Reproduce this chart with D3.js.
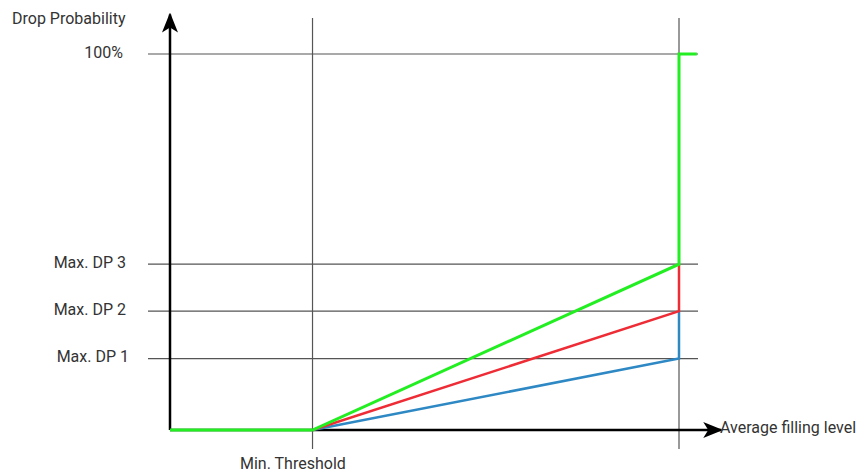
<!DOCTYPE html>
<html>
<head>
<meta charset="utf-8">
<script src="https://d3js.org/d3.v7.min.js"></script>
<style>
  body { margin: 0; background: #fff; }
  text { font-family: Roboto, "Noto Sans", sans-serif; font-size: 16px; fill: #333; }
</style>
</head>
<body>
<svg id="chart" width="862" height="470"></svg>
<script>
// fill level: 0 .. max threshold (100), drop probability in %
var minThreshold = 28;
var maxThreshold = 100;
var levelLabels = ["Max. DP 1", "Max. DP 2", "Max. DP 3", "100%"];
var levelValues = [19, 31.6, 44.1, 100];
var curveNames = ["DP 1", "DP 2", "DP 3"];
var curveMax = [19, 31.6, 44.1];
var curveColors = ["#2e88c4", "#ee2c36", "#22ee22"];

// right edge of each level label
var labelRight = [129, 126, 126, 123];

var svg = d3.select("#chart");

var x = d3.scaleLinear().domain([0, maxThreshold]).range([170, 679]);
var y = d3.scaleLinear().domain([0, 100]).range([430, 54]);

// arrow markers
var defs = svg.append("defs");
defs.append("marker")
    .attr("id", "arrow")
    .attr("viewBox", "0 0 20 16")
    .attr("refX", 18).attr("refY", 8)
    .attr("markerWidth", 20).attr("markerHeight", 16)
    .attr("markerUnits", "userSpaceOnUse")
    .attr("orient", "auto")
  .append("path")
    .attr("d", "M0,0 L20,8 L0,16 L5,8 Z")
    .attr("fill", "#000");

// guide lines for the levels
svg.append("g").selectAll("line")
    .data(levelValues)
    .enter().append("line")
      .attr("x1", 148).attr("x2", 698)
      .attr("y1", function(d) { return y(d); })
      .attr("y2", function(d) { return y(d); })
      .attr("stroke", "#555").attr("stroke-width", 1.2);

svg.append("g").selectAll("text")
    .data(levelValues)
    .enter().append("text")
      .attr("x", function(d, i) { return labelRight[i]; })
      .attr("y", function(d) { return y(d); })
      .attr("dy", "0.23em")
      .attr("text-anchor", "end")
      .text(function(d, i) { return levelLabels[i]; });

// threshold verticals
svg.append("g").selectAll("line")
    .data([minThreshold, maxThreshold])
    .enter().append("line")
      .attr("x1", function(d) { return x(d); })
      .attr("x2", function(d) { return x(d); })
      .attr("y1", y(109.6)).attr("y2", 449)
      .attr("stroke", "#555").attr("stroke-width", 1.2);

// axes
svg.append("line")
    .attr("x1", x(0)).attr("y1", y(0))
    .attr("x2", x(0)).attr("y2", y(110.5))
    .attr("stroke", "#000").attr("stroke-width", 2.5)
    .attr("marker-end", "url(#arrow)");
svg.append("line")
    .attr("x1", x(0)).attr("y1", y(0))
    .attr("x2", x(108.3)).attr("y2", y(0))
    .attr("stroke", "#000").attr("stroke-width", 2.5)
    .attr("marker-end", "url(#arrow)");

// drop probability curves (blue first, green on top)
var line = d3.line().x(function(d) { return x(d[0]); }).y(function(d) { return y(d[1]); });
curveMax.forEach(function(m, i) {
  var next = i < curveMax.length - 1 ? curveMax[i + 1] : 100;
  var pts = [[minThreshold, 0], [maxThreshold, m], [maxThreshold, next]];
  if (i === curveMax.length - 1) {
    pts = [[0, 0]].concat(pts).concat([[103.5, 100]]);
  }
  svg.append("path")
      .attr("d", line(pts))
      .attr("fill", "none")
      .attr("stroke", curveColors[i])
      .attr("stroke-width", i === 2 ? 3 : 2.5)
      .attr("stroke-linejoin", "miter");
});

// labels
svg.append("text").attr("x", 12).attr("y", 24).text("Drop Probability");
svg.append("text").attr("x", 240).attr("y", 469).text("Min. Threshold");
svg.append("text").attr("x", 720).attr("y", 432.5).text("Average filling level");
</script>
</body>
</html>
